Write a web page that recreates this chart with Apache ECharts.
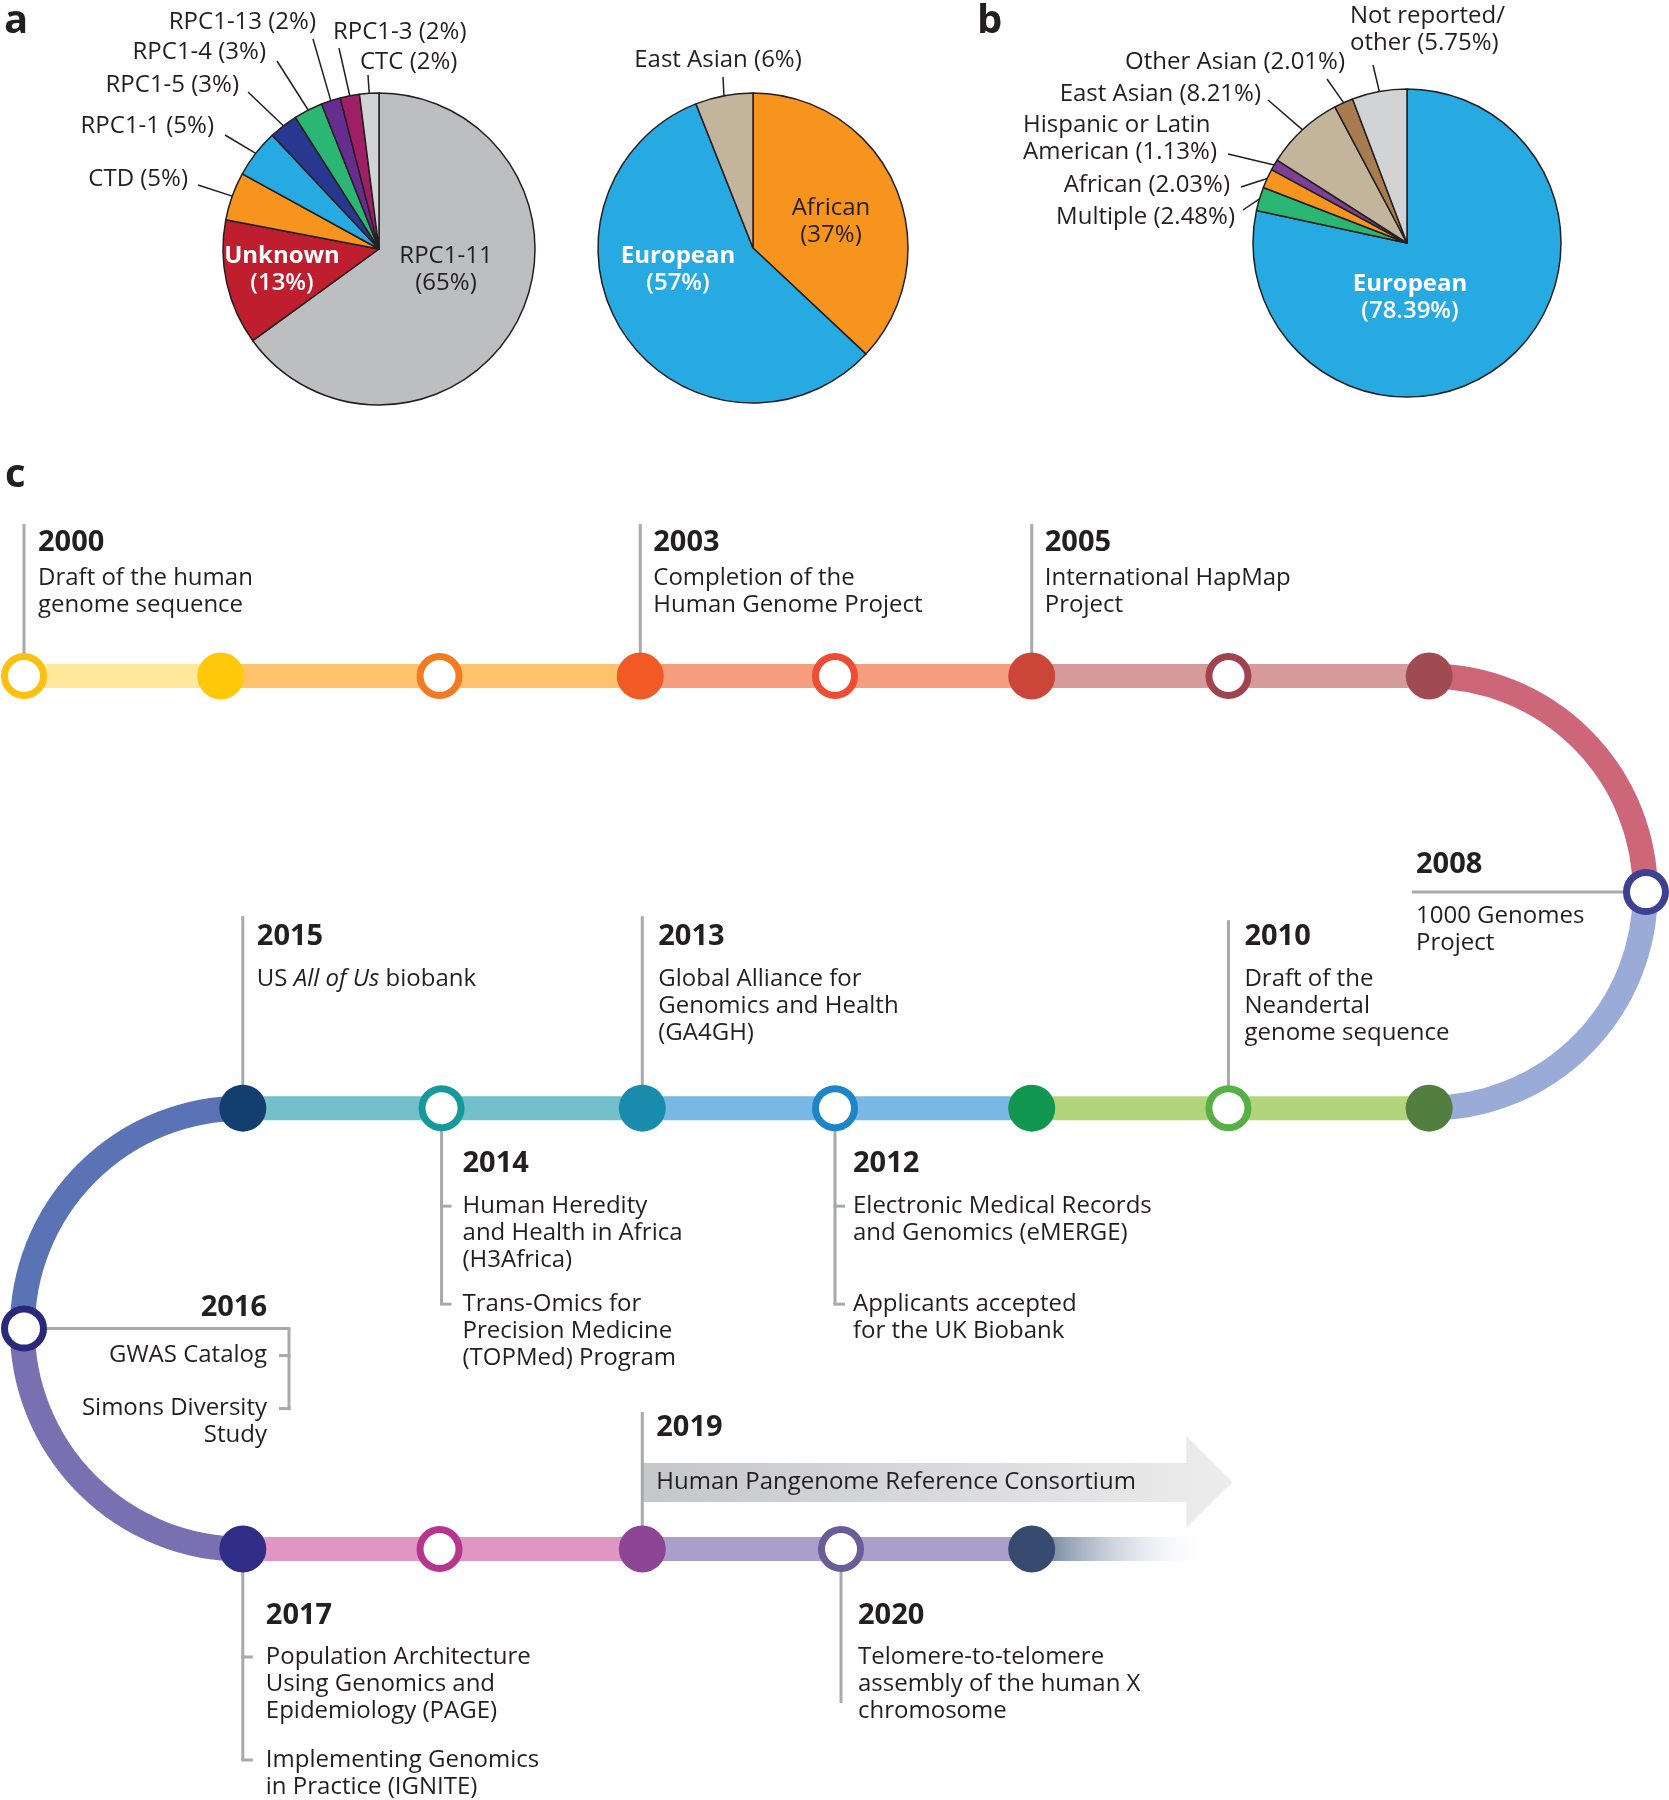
<!DOCTYPE html>
<html>
<head>
<meta charset="utf-8">
<script src="https://cdn.jsdelivr.net/npm/echarts/dist/echarts.min.js"></script>
<style>
html,body{margin:0;padding:0;background:#ffffff;}
#chart{width:1669px;height:1800px;}
</style>
</head>
<body>
<div id="chart"></div>
<script>
// ================= DATA =================
// Panel a (left pie)
const pieA1Names = ['RPC1-11', 'Unknown', 'CTD', 'RPC1-1', 'RPC1-5', 'RPC1-4', 'RPC1-13', 'RPC1-3', 'CTC'];
const pieA1Values = [65, 13, 5, 5, 3, 3, 2, 2, 2];
// Panel a (right pie)
const pieA2Names = ['African', 'European', 'East Asian'];
const pieA2Values = [37, 57, 6];
// Panel b
const pieBNames = ['European', 'Multiple', 'African', 'Hispanic or Latin\nAmerican', 'East Asian', 'Other Asian', 'Not reported/\nother'];
const pieBValues = [78.39, 2.48, 2.03, 1.13, 8.21, 2.01, 5.75];

// Panel c: timeline stations (column along track, track row)
const nodeCols = [0, 0.98, 2.07, 3.07, 4.04, 5.02, 6.00, 7.00, 8.08, 7.00, 6.00, 5.02, 4.04, 3.08, 2.08, 1.09, 0, 1.09, 2.07, 3.08, 4.07, 5.02];
const nodeRows = [0, 0, 0, 0, 0, 0, 0, 0, 0.495, 0.99, 0.99, 0.99, 0.99, 0.99, 0.99, 0.99, 1.495, 2, 2, 2, 2, 2];
const nodeOpen = [1, 0, 1, 0, 1, 0, 1, 0, 1, 0, 1, 0, 1, 0, 1, 0, 1, 0, 1, 0, 1, 0];
const segFrom = [0, 1, 2, 3, 4, 5, 6, 9, 10, 11, 12, 13, 14, 17, 18, 19, 20];
const segTo   = [1, 2, 3, 4, 5, 6, 7, 10, 11, 12, 13, 14, 15, 18, 19, 20, 21];
const arcFrom = [7, 15];
const arcTo = [9, 17];
const trackEndCol = 5.92;
const arrowCols = [3.08, 5.79, 6.02];

const eventYears = ['2000', '2003', '2005', '2008', '2010', '2012', '2013', '2014', '2015', '2016', '2017', '2019', '2020'];
const eventNodes = [0, 3, 5, 8, 10, 12, 13, 14, 15, 16, 17, 19, 20];
const eventTexts = [
  [['Draft of the human', 'genome sequence']],
  [['Completion of the', 'Human Genome Project']],
  [['International HapMap', 'Project']],
  [['1000 Genomes', 'Project']],
  [['Draft of the', 'Neandertal', 'genome sequence']],
  [['Electronic Medical Records', 'and Genomics (eMERGE)'], ['Applicants accepted', 'for the UK Biobank']],
  [['Global Alliance for', 'Genomics and Health', '(GA4GH)']],
  [['Human Heredity', 'and Health in Africa', '(H3Africa)'], ['Trans-Omics for', 'Precision Medicine', '(TOPMed) Program']],
  [['US {i|All of Us} biobank']],
  [['GWAS Catalog'], ['Simons Diversity', 'Study']],
  [['Population Architecture', 'Using Genomics and', 'Epidemiology (PAGE)'], ['Implementing Genomics', 'in Practice (IGNITE)']],
  [['Human Pangenome Reference Consortium']],
  [['Telomere-to-telomere', 'assembly of the human X', 'chromosome']]
];

// ================= STYLE / LAYOUT =================
const INK = '#231f20';
const GRAY = '#a7a9ac';
const FONT = '"Open Sans", "Noto Sans", sans-serif';
const LH = 27;
const DESC_SIZE = 24;
const YEAR_SIZE = 29;

const pieA1Colors = ['#bcbec0', '#be1e2d', '#f7941d', '#27aae1', '#283891', '#2bb673', '#662d91', '#9e1f63', '#d1d3d4'];
const pieA2Colors = ['#f7941d', '#27aae1', '#c2b59b'];
const pieBColors = ['#27aae1', '#2bb673', '#f7941d', '#7f3f98', '#c2b59b', '#a97c50', '#d1d3d4'];

const pieA1Layout = [
  {x: 446, y: 270, align: 'center', inside: true, color: INK},
  {x: 282, y: 270, align: 'center', inside: true, color: '#ffffff', bold: true},
  {x: 188, y: 179, align: 'right', lx: 198, ly: 185},
  {x: 214, y: 126, align: 'right', lx: 225, ly: 135},
  {x: 239, y: 85, align: 'right', lx: 248, ly: 92},
  {x: 266, y: 52, align: 'right', lx: 277, ly: 61},
  {x: 316, y: 22, align: 'right', lx: 313, ly: 39},
  {x: 333, y: 32, align: 'left', lx: 339, ly: 48},
  {x: 360, y: 62, align: 'left', lx: 368, ly: 75}
];
const pieA2Layout = [
  {x: 831, y: 222, align: 'center', inside: true, color: INK},
  {x: 678, y: 270, align: 'center', inside: true, color: '#ffffff', bold: true},
  {x: 718, y: 60, align: 'center', lx: 723, ly: 77}
];
const pieBLayout = [
  {x: 1410, y: 298, align: 'center', inside: true, color: '#ffffff', bold: true},
  {x: 1235, y: 217, align: 'right', lx: 1243, ly: 210},
  {x: 1230, y: 185, align: 'right', lx: 1241, ly: 187},
  {x: 1023, y: 139, align: 'left', lx: 1228, ly: 154},
  {x: 1261, y: 94, align: 'right', lx: 1268, ly: 100},
  {x: 1345, y: 62, align: 'right', lx: 1327, ly: 79},
  {x: 1350, y: 30, align: 'left', lx: 1373, ly: 65}
];

const nodeColors = ['#fdc010', '#ffc80b', '#f37a21', '#f15a25', '#ef4c34', '#cb4539', '#a0434e', '#a04b52',
  '#3e4192', '#527e3f', '#57b046', '#10964e', '#1e86c8', '#198cae', '#16999a', '#133f6e',
  '#29287a', '#302d87', '#b8358f', '#8b4594', '#6b5b98', '#364b6f'];
const segColors = ['#fee89c', '#fec26c', '#fec26c', '#f69d7d', '#f69d7d', '#d79a9b', '#d79a9b',
  '#b2d47b', '#b2d47b', '#78b8e5', '#78b8e5', '#73c0ca', '#73c0ca',
  '#e096c2', '#e096c2', '#a99fc8', '#a99fc8'];
const arcColors = [['#cd6679', '#9aabd8'], ['#5a73b4', '#7970b2']];
const arcSide = [1, -1];
const TRACK_W = 24;

const eventLayout = {
  '2000': {type: 'up', top: -152, yearY: -133, descY: [-98], dx: 14},
  '2003': {type: 'up', top: -152, yearY: -133, descY: [-98], dx: 13},
  '2005': {type: 'up', top: -152, yearY: -133, descY: [-98], dx: 13},
  '2008': {type: 'side', lx: -234, tx: -230, yearY: -27, descY: [24]},
  '2010': {type: 'up', top: -188, yearY: -171, descY: [-129], dx: 16},
  '2012': {type: 'down', yearY: 56, descY: [98, 196], end: 196, ticks: true, dx: 18},
  '2013': {type: 'up', top: -192, yearY: -171, descY: [-129], dx: 16},
  '2014': {type: 'down', yearY: 56, descY: [98, 196], end: 196, ticks: true, dx: 21},
  '2015': {type: 'up', top: -192, yearY: -171, descY: [-129], dx: 14},
  '2016': {type: 'left', hx: 265, tx: 243, yearY: -21, descY: [27, 80], end: 80},
  '2017': {type: 'down', yearY: 67, descY: [108, 211], end: 211, ticks: true, dx: 23},
  '2019': {type: 'arrow', top: -137, yearY: -121, dx: 14, band: [-86, -47], head: [-113, -21], textY: -67},
  '2020': {type: 'down', yearY: 67, descY: [108], end: 154, ticks: false, dx: 17}
};

// ================= BUILD =================
function pieSeries(names, values, colors, layout, center, radius, decimals) {
  return {
    type: 'pie', center: center, radius: radius, startAngle: 90, clockwise: true,
    avoidLabelOverlap: false, silent: true, animation: false,
    itemStyle: {borderColor: INK, borderWidth: 1.5},
    label: {show: true, position: 'outside', color: INK, fontFamily: FONT, fontSize: 24, lineHeight: 27},
    labelLine: {show: true, length: 5, length2: 5, lineStyle: {color: INK, width: 1.5}},
    data: names.map(function (n, i) {
      const L = layout[i];
      const pct = '(' + values[i].toFixed(decimals) + '%)';
      let label;
      if (L.inside) {
        const w = L.bold ? 600 : 'normal';
        label = {
          position: 'inside',
          formatter: '{n|' + n + '}\n{v|' + pct + '}',
          rich: {
            n: {color: L.color, fontFamily: FONT, fontSize: 24, lineHeight: 27, fontWeight: L.bold ? 'bold' : 'normal'},
            v: {color: L.color, fontFamily: FONT, fontSize: 24, lineHeight: 27, fontWeight: w}
          }
        };
      } else {
        label = {position: 'outside', formatter: n + ' ' + pct};
      }
      return {name: n, value: values[i], itemStyle: {color: colors[i]}, label: label, labelLine: {show: !L.inside}};
    }),
    labelLayout: function (p) {
      const L = layout[p.dataIndex];
      const out = {x: L.x, y: L.y, align: L.align, verticalAlign: 'middle', hideOverlap: false, moveOverlap: false};
      if (!L.inside && p.labelLinePoints && p.labelLinePoints.length) {
        out.labelLinePoints = [p.labelLinePoints[0], [L.lx, L.ly], [L.lx, L.ly]];
      }
      return out;
    }
  };
}

const trackData = segFrom.map(function (f, i) {
  return [nodeCols[f], nodeRows[f], nodeCols[segTo[i]], nodeRows[segTo[i]], i];
});
trackData.push([nodeCols[21], nodeRows[21], trackEndCol, nodeRows[21], -1]);

const arcData = arcFrom.map(function (f, i) {
  return [nodeCols[f], nodeRows[f], nodeCols[arcTo[i]], nodeRows[arcTo[i]], i];
});

const nodeData = nodeCols.map(function (c, i) {
  return nodeOpen[i]
    ? {value: [c, nodeRows[i]], symbolSize: 39, itemStyle: {color: '#ffffff', borderColor: nodeColors[i], borderWidth: 7, opacity: 1}}
    : {value: [c, nodeRows[i]], symbolSize: 47, itemStyle: {color: nodeColors[i], borderWidth: 0, opacity: 1}};
});

const eventData = eventNodes.map(function (n, i) { return [nodeCols[n], nodeRows[n], i]; });

const RICH = {i: {fontStyle: 'italic', fontFamily: FONT, fontSize: DESC_SIZE, fill: INK}};

function renderEvent(params, api) {
  const idx = api.value(2);
  const p = api.coord([api.value(0), api.value(1)]);
  const L = eventLayout[eventYears[idx]];
  const groups = eventTexts[idx];
  const kids = [];
  const seg = function (x1, y1, x2, y2) {
    kids.push({type: 'line', shape: {x1: x1, y1: y1, x2: x2, y2: y2}, style: {stroke: GRAY, lineWidth: 3}});
  };
  const txt = function (s, x, y, o) {
    kids.push({type: 'text', style: Object.assign({text: s, x: x, y: y, fill: INK, fontFamily: FONT, fontSize: DESC_SIZE,
      align: 'left', verticalAlign: 'middle', rich: RICH}, o || {})});
  };
  const yr = function (x, y, align) { txt(eventYears[idx], x, y, {fontSize: YEAR_SIZE, fontWeight: 'bold', align: align}); };
  const block = function (lines, x, y, align) {
    lines.forEach(function (s, k) { txt(s, x, y + k * LH, {align: align}); });
  };
  const x = p[0], y = p[1];
  if (L.type === 'up') {
    seg(x, y, x, y + L.top);
    yr(x + L.dx, y + L.yearY, 'left');
    block(groups[0], x + L.dx, y + L.descY[0], 'left');
  } else if (L.type === 'down') {
    seg(x, y, x, y + L.end);
    if (L.ticks) L.descY.forEach(function (d) { seg(x - 1.5, y + d, x + 10, y + d); });
    yr(x + L.dx, y + L.yearY, 'left');
    groups.forEach(function (g, k) { block(g, x + L.dx, y + L.descY[k], 'left'); });
  } else if (L.type === 'left') {
    seg(x, y, x + L.hx + 1.5, y);
    seg(x + L.hx, y, x + L.hx, y + L.end + 1.5);
    L.descY.forEach(function (d) { seg(x + L.hx + 1.5, y + d, x + L.hx - 10, y + d); });
    yr(x + L.tx, y + L.yearY, 'right');
    groups.forEach(function (g, k) { block(g, x + L.tx, y + L.descY[k], 'right'); });
  } else if (L.type === 'side') {
    seg(x + L.lx, y, x, y);
    yr(x + L.tx, y + L.yearY, 'left');
    block(groups[0], x + L.tx, y + L.descY[0], 'left');
  } else if (L.type === 'arrow') {
    const xe = api.coord([arrowCols[1], api.value(1)])[0];
    const xt = api.coord([arrowCols[2], api.value(1)])[0];
    const xs = api.coord([arrowCols[0], api.value(1)])[0];
    kids.push({type: 'polygon', shape: {points: [
      [xs, y + L.band[0]], [xe, y + L.band[0]], [xe, y + L.head[0]], [xt, y + L.textY],
      [xe, y + L.head[1]], [xe, y + L.band[1]], [xs, y + L.band[1]]]},
      style: {fill: {type: 'linear', x: 0, y: 0, x2: 1, y2: 0,
        colorStops: [{offset: 0, color: '#c5c6c8'}, {offset: 1, color: '#ededee'}]}}});
    seg(x, y, x, y + L.top);
    yr(x + L.dx, y + L.yearY, 'left');
    txt(groups[0][0], x + L.dx, y + L.textY, {fontSize: DESC_SIZE});
  }
  return {type: 'group', children: kids};
}

const option = {
  animation: false,
  backgroundColor: '#ffffff',
  grid: {left: 24, top: 676, width: 1626, height: 873, containLabel: false},
  xAxis: {type: 'value', min: 0, max: 8.1, show: false},
  yAxis: {type: 'value', min: 0, max: 2, inverse: true, show: false},
  graphic: [
    {type: 'text', style: {text: 'a', x: 4, y: 22, font: 'bold 40px ' + FONT, fill: INK, verticalAlign: 'middle'}},
    {type: 'text', style: {text: 'b', x: 977, y: 22, font: 'bold 40px ' + FONT, fill: INK, verticalAlign: 'middle'}},
    {type: 'text', style: {text: 'c', x: 5, y: 476, font: 'bold 40px ' + FONT, fill: INK, verticalAlign: 'middle'}}
  ],
  series: [
    pieSeries(pieA1Names, pieA1Values, pieA1Colors, pieA1Layout, [379, 249], 156, 0),
    pieSeries(pieA2Names, pieA2Values, pieA2Colors, pieA2Layout, [753, 248], 155, 0),
    pieSeries(pieBNames, pieBValues, pieBColors, pieBLayout, [1407, 243], 154, 2),
    {
      type: 'custom', coordinateSystem: 'cartesian2d', silent: true, z: 2,
      data: trackData, encode: {x: [0, 2], y: [1, 3]},
      renderItem: function (params, api) {
        const a = api.coord([api.value(0), api.value(1)]);
        const b = api.coord([api.value(2), api.value(3)]);
        const i = api.value(4);
        const fill = i < 0
          ? {type: 'linear', x: 0, y: 0, x2: 1, y2: 0, colorStops: [{offset: 0, color: '#5b7190'}, {offset: 1, color: 'rgba(255,255,255,0)'}]}
          : segColors[i];
        return {type: 'rect', shape: {x: Math.min(a[0], b[0]), y: a[1] - TRACK_W / 2, width: Math.abs(b[0] - a[0]), height: TRACK_W},
          style: {fill: fill}};
      }
    },
    {
      type: 'custom', coordinateSystem: 'cartesian2d', silent: true, z: 2,
      data: arcData, encode: {x: [0, 2], y: [1, 3]},
      renderItem: function (params, api) {
        const a = api.coord([api.value(0), api.value(1)]);
        const b = api.coord([api.value(2), api.value(3)]);
        const i = api.value(4);
        const cx = a[0], cy = (a[1] + b[1]) / 2, r = (b[1] - a[1]) / 2;
        const right = arcSide[i] > 0;
        const P = Math.PI;
        return {type: 'group', children: [
          {type: 'arc', shape: right ? {cx: cx, cy: cy, r: r, startAngle: -P / 2, endAngle: 0.02, clockwise: true}
                                     : {cx: cx, cy: cy, r: r, startAngle: -P / 2, endAngle: -P - 0.02, clockwise: false},
           style: {stroke: arcColors[i][0], lineWidth: 25, fill: null}},
          {type: 'arc', shape: right ? {cx: cx, cy: cy, r: r, startAngle: 0, endAngle: P / 2, clockwise: true}
                                     : {cx: cx, cy: cy, r: r, startAngle: P, endAngle: P / 2, clockwise: false},
           style: {stroke: arcColors[i][1], lineWidth: 25, fill: null}}
        ]};
      }
    },
    {
      type: 'custom', coordinateSystem: 'cartesian2d', silent: true, z: 3,
      data: eventData, encode: {x: 0, y: 1},
      renderItem: renderEvent
    },
    {
      type: 'scatter', coordinateSystem: 'cartesian2d', silent: true, z: 4, clip: false,
      symbol: 'circle', data: nodeData, itemStyle: {opacity: 1}
    }
  ]
};

const chart = echarts.init(document.getElementById('chart'), null, {renderer: 'canvas', width: 1669, height: 1800});
chart.setOption(option);
</script>
</body>
</html>
